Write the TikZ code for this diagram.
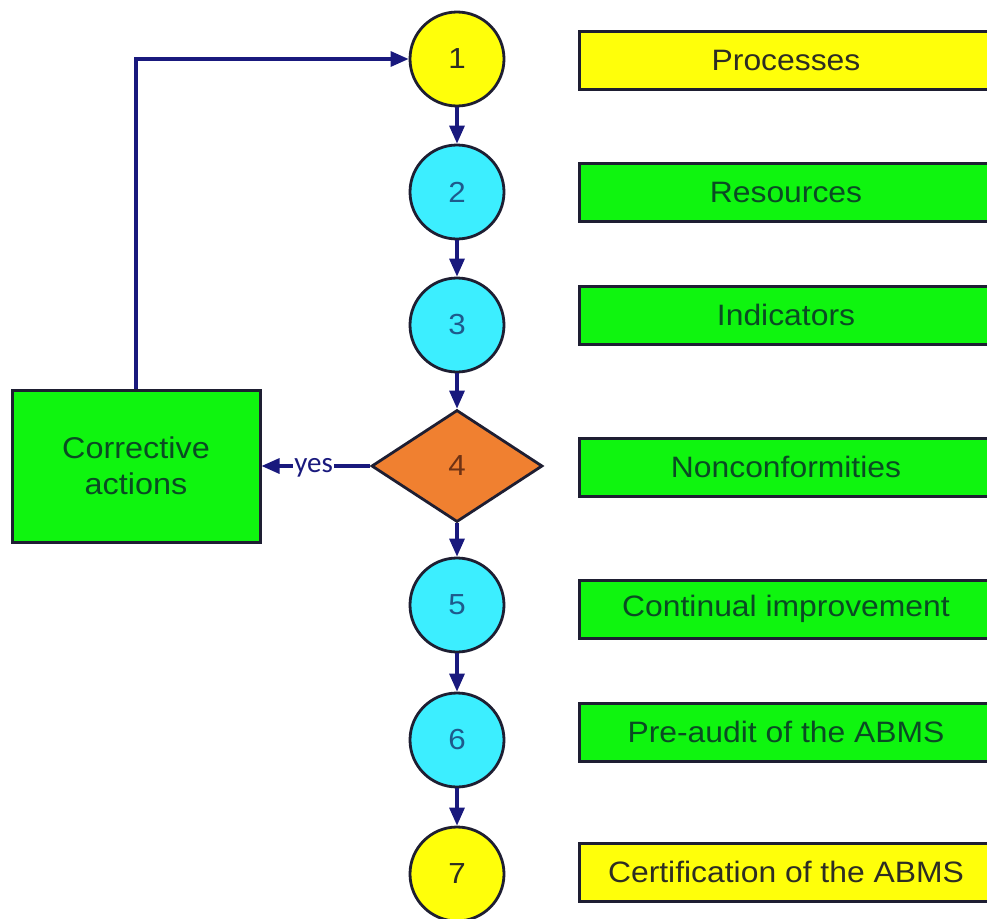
\documentclass[tikz,border=0pt]{standalone}
\usepackage{fontspec}
\setmainfont[FakeStretch=1.08]{Liberation Sans}
\newfontfamily\yesfont{Carlito}
\usetikzlibrary{arrows.meta,shapes.geometric}
\definecolor{cyel}{RGB}{255,255,10}
\definecolor{ccyan}{RGB}{60,238,255}
\definecolor{cgreen}{RGB}{15,245,15}
\definecolor{corange}{RGB}{240,128,48}
\definecolor{cnavy}{RGB}{25,25,125}
\definecolor{cborder}{RGB}{30,30,50}
\definecolor{tgray}{RGB}{45,45,35}
\definecolor{tblue}{RGB}{30,90,140}
\definecolor{tbrown}{RGB}{110,50,20}
\definecolor{tgreen}{RGB}{10,75,35}
\tikzset{
  circ/.style={circle, draw=cborder, line width=2.8pt, minimum size=94pt, inner sep=0pt, font=\fontsize{29}{32}\selectfont},
  ycirc/.style={circ, fill=cyel, text=tgray},
  ccirc/.style={circ, fill=ccyan, text=tblue},
  dec/.style={diamond, draw=cborder, line width=2.8pt, fill=corange, text=tbrown, minimum width=171pt, minimum height=112pt, inner sep=0pt, aspect=1.53, font=\fontsize{29}{32}\selectfont},
  lbox/.style={rectangle, draw=cborder, line width=3pt, minimum width=414pt, minimum height=58pt, inner sep=0pt, font=\fontsize{29.5}{32}\selectfont},
  ybox/.style={lbox, fill=cyel, text=tgray},
  gbox/.style={lbox, fill=cgreen, text=tgreen},
  cbox/.style={rectangle, draw=cborder, line width=3pt, fill=cgreen, text=tgreen, minimum width=248pt, minimum height=152pt, inner sep=0pt, align=center, font=\fontsize{30}{36}\selectfont},
  flow/.style={draw=cnavy, line width=3.2pt, -{Triangle[length=18pt,width=15pt]}},
}
\begin{document}
\begin{tikzpicture}[x=1pt,y=-1pt]
\useasboundingbox (0,0) rectangle (987,918);
\clip (0,0) rectangle (987,918);
\fill[white] (0,0) rectangle (987,918);
% circles
\node[ycirc] (c1) at (457,59) {1};
\node[ccirc] (c2) at (457,192) {2};
\node[ccirc] (c3) at (457,325) {3};
\node[dec] (d4) at (457,466) {4};
\node[ccirc] (c5) at (457,605) {5};
\node[ccirc] (c6) at (457,740) {6};
\node[ycirc] (c7) at (457,874) {7};
% boxes
\node[ybox] (b1) at (786,60) {Processes};
\node[gbox] (b2) at (786,192) {Resources};
\node[gbox] (b3) at (786,315) {Indicators};
\node[gbox] (b4) at (786,467) {Nonconformities};
\node[gbox] (b5) at (786,609) {Continual improvement};
\node[gbox] (b6) at (786,732) {Pre-audit of the ABMS};
\node[ybox] (b7) at (786,872) {Certification of the ABMS};
% corrective
\node[cbox] (ca) at (136,466) {Corrective\\actions};
% flow arrows
\draw[flow] (c1) -- (c2);
\draw[flow] (c2) -- (c3);
\draw[flow] (c3) -- (d4);
\draw[flow] (d4) -- (c5);
\draw[flow] (c5) -- (c6);
\draw[flow] (c6) -- (c7);
\draw[flow] (d4.west) -- node[pos=0.52, fill=white, inner sep=1pt, text=cnavy, font=\yesfont\fontsize{29}{30}\selectfont, yshift=-2pt]{yes} (ca.east);
\draw[flow] (ca.north) |- (c1.west);
\end{tikzpicture}
\end{document}
